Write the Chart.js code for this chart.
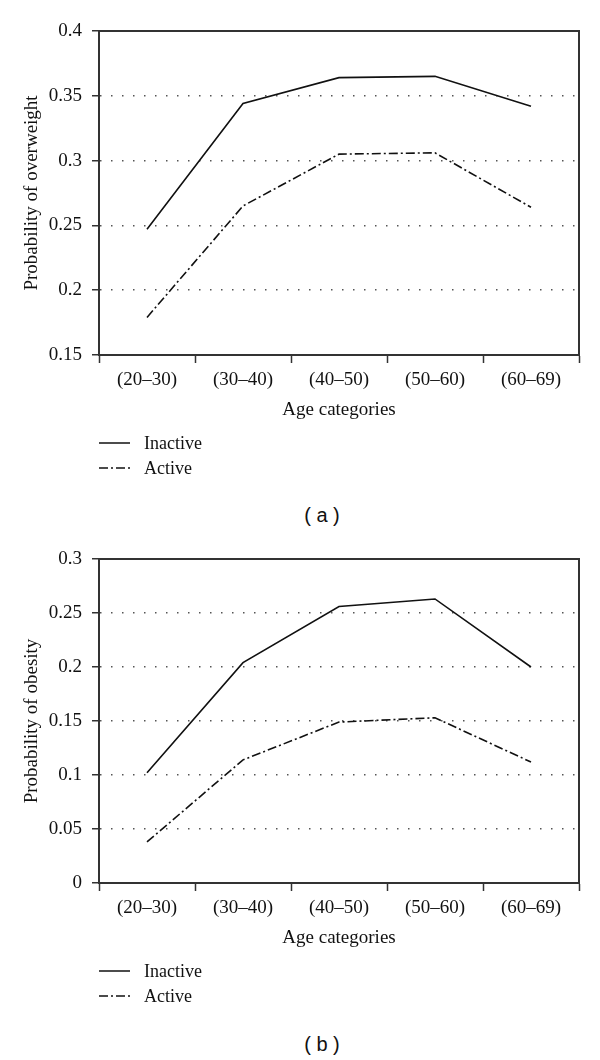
<!DOCTYPE html>
<html>
<head>
<meta charset="utf-8">
<script src="https://cdn.jsdelivr.net/npm/chart.js@4.4.1/dist/chart.umd.min.js"></script>
<style>
  html, body { margin: 0; padding: 0; background: #fff; }
  #page { position: relative; width: 600px; height: 1060px; }
  .box { position: absolute; left: 0; width: 600px; height: 500px; }
  .cap { position: absolute; left: 0; width: 644px; text-align: center;
         font: 20px "Liberation Sans", Arial, sans-serif; color: #111; }
</style>
</head>
<body>
<div id="page">
  <div class="box" style="top:0"><canvas id="chart-a" width="600" height="500"></canvas></div>
  <div class="cap" style="top:504px">( a )</div>
  <div class="box" style="top:528px"><canvas id="chart-b" width="600" height="500"></canvas></div>
  <div class="cap" style="top:1033px">( b )</div>
</div>
<script>
// Categories
const ageLabels = ['(20–30)', '(30–40)', '(40–50)', '(50–60)', '(60–69)'];

// (a) probability of overweight
const overweightInactive = [0.247, 0.344, 0.364, 0.365, 0.342];
const overweightActive   = [0.179, 0.265, 0.305, 0.306, 0.264];
const overweightAxis     = [0.15, 0.4, 0.05];   // min, max, step

// (b) probability of obesity
const obesityInactive = [0.102, 0.204, 0.256, 0.263, 0.200];
const obesityActive   = [0.038, 0.114, 0.149, 0.153, 0.112];
const obesityAxis     = [0, 0.3, 0.05];

const serif = '"Liberation Serif", "DejaVu Serif", serif';
const ink = '#111';
const axisInk = '#333';

// top and right edges of the plot frame
const frame = {
    id: 'frame',
    afterDraw(chart) {
        const { ctx, chartArea: a } = chart;
        ctx.save();
        ctx.strokeStyle = axisInk;
        ctx.lineWidth = 2;
        ctx.beginPath();
        ctx.moveTo(a.left, a.top);
        ctx.lineTo(a.right, a.top);
        ctx.lineTo(a.right, a.bottom);
        ctx.stroke();
        ctx.restore();
    }
};

// legend: line sample + label, stacked under the axis title
const lineLegend = {
    id: 'lineLegend',
    afterDraw(chart) {
        const { ctx, chartArea: a } = chart;
        ctx.save();
        chart.data.datasets.forEach((ds, i) => {
            const y = a.bottom + 88 + i * 25;
            ctx.beginPath();
            ctx.setLineDash(ds.borderDash || []);
            ctx.lineWidth = 1.5;
            ctx.strokeStyle = ink;
            ctx.moveTo(a.left, y);
            ctx.lineTo(a.left + 31, y);
            ctx.stroke();
            ctx.setLineDash([]);
            ctx.fillStyle = ink;
            ctx.font = '18px ' + serif;
            ctx.textBaseline = 'middle';
            ctx.fillText(ds.label, a.left + 45, y + 1);
        });
        ctx.restore();
    }
};

function makeChart(id, inactive, active, yTitle, range) {
    const [min, max, step] = range;
    const isEdge = v => Math.abs(v - min) < 1e-9 || Math.abs(v - max) < 1e-9;
    return new Chart(document.getElementById(id), {
        type: 'line',
        data: {
            labels: ageLabels,
            datasets: [
                { label: 'Inactive', data: inactive, borderColor: ink, borderWidth: 1.6,
                  pointRadius: 0, tension: 0, fill: false },
                { label: 'Active', data: active, borderColor: ink, borderWidth: 1.6,
                  borderDash: [9, 3, 2, 3], pointRadius: 0, tension: 0, fill: false }
            ]
        },
        options: {
            responsive: false,
            animation: false,
            layout: { padding: { top: 31, bottom: 75, left: 0, right: 21 } },
            plugins: { legend: { display: false }, tooltip: { enabled: false } },
            scales: {
                x: {
                    offset: true,
                    grid: { offset: true, drawOnChartArea: false, tickLength: 8,
                            tickColor: axisInk, tickWidth: 1.5 },
                    border: { color: axisInk, width: 2 },
                    ticks: { color: ink, font: { family: serif, size: 19 }, padding: 6,
                             maxRotation: 0, autoSkip: false },
                    title: { display: true, text: 'Age categories', color: ink,
                             font: { family: serif, size: 19 }, padding: { top: 4, bottom: 4 } },
                    afterFit(s) { s.height = 70; }
                },
                y: {
                    min: min, max: max,
                    ticks: { stepSize: step, color: ink, font: { family: serif, size: 19 }, padding: 10,
                             callback: v => String(+v.toFixed(2)) },
                    grid: { color: c => isEdge(c.tick.value) ? 'rgba(0,0,0,0)' : '#555',
                            lineWidth: 1.5, tickLength: 7, tickColor: axisInk, tickWidth: 1.5 },
                    border: { color: axisInk, width: 2, dash: [1.5, 9.5] },
                    title: { display: true, text: yTitle, color: ink,
                             font: { family: serif, size: 19 }, padding: { top: 21, bottom: 21 } },
                    afterFit(s) { s.width = 99; }
                }
            }
        },
        plugins: [frame, lineLegend]
    });
}

makeChart('chart-a', overweightInactive, overweightActive, 'Probability of overweight', overweightAxis);
makeChart('chart-b', obesityInactive, obesityActive, 'Probability of obesity', obesityAxis);
</script>
</body>
</html>
